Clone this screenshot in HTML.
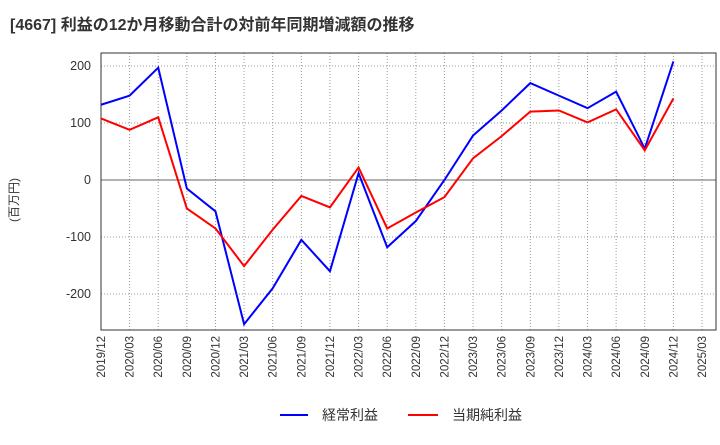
<!DOCTYPE html>
<html><head><meta charset="utf-8"><style>
body{margin:0;background:#fff;font-family:"Liberation Sans","Noto Sans CJK JP",sans-serif;}
</style></head><body>
<svg width="720" height="440" xmlns="http://www.w3.org/2000/svg" id="chart">
<text x="10" y="30" font-size="16" font-weight="bold" fill="#333" font-family="Liberation Sans,Noto Sans CJK JP,sans-serif">[4667]  利益の12か月移動合計の対前年同期増減額の推移</text>
<text transform="translate(18,200) rotate(-90)" font-size="12" fill="#333" text-anchor="middle" font-family="Liberation Sans,Noto Sans CJK JP,sans-serif">(百万円)</text>
<g id="grid"></g><g id="axes"></g><g id="series"></g>
<g>
<line x1="280" y1="415" x2="308" y2="415" stroke="#0000ff" stroke-width="2"/>
<text x="322" y="420" font-size="14" fill="#333" font-family="Liberation Sans,Noto Sans CJK JP,sans-serif">経常利益</text>
<line x1="408" y1="415" x2="438" y2="415" stroke="#ff0000" stroke-width="2"/>
<text x="452" y="420" font-size="14" fill="#333" font-family="Liberation Sans,Noto Sans CJK JP,sans-serif">当期純利益</text>
</g>
</svg>
<script>
const categories=["2019/12","2020/03","2020/06","2020/09","2020/12","2021/03","2021/06","2021/09","2021/12","2022/03","2022/06","2022/09","2022/12","2023/03","2023/06","2023/09","2023/12","2024/03","2024/06","2024/09","2024/12","2025/03"];
const ordinaryProfit=[132,148,197,-15,-55,-253,-190,-105,-160,12,-118,-72,0,78,122,170,148,126,155,55,208];
const netProfit=[108,88,110,-50,-85,-151,-87,-28,-48,22,-85,-57,-30,38,77,120,122,101,124,52,143];
const yTicks=[200,100,0,-100,-200];
const NS="http://www.w3.org/2000/svg";
const L=101,R=716,T=53,B=330;
const step=(702-L)/(categories.length-1);
const xs=i=>L+i*step;
const ys=v=>180-v*0.57;
function mk(tag,attrs,parent){const e=document.createElementNS(NS,tag);for(const k in attrs)e.setAttribute(k,attrs[k]);parent.appendChild(e);return e;}
const grid=document.getElementById('grid'),axes=document.getElementById('axes'),series=document.getElementById('series');
categories.forEach((c,i)=>{
 const g=mk('line',{x1:xs(i),x2:xs(i),y1:T,y2:B,stroke:'#999','stroke-dasharray':'1,2','stroke-width':1},grid);
 
 
 const t=mk('text',{transform:`translate(${xs(i)+4},${B+6}) rotate(-90)`,'font-size':11.5,fill:'#333','text-anchor':'end'},axes);
 t.textContent=c;
 
 
});
yTicks.forEach(v=>{
 const g=mk('line',{x1:L,x2:R,y1:ys(v),y2:ys(v),stroke:v===0?'#666':'#999','stroke-dasharray':v===0?'':'1,2','stroke-width':1},grid);
 
 
 const t=mk('text',{x:L-10,y:ys(v)+4,'font-size':12.5,fill:'#333','text-anchor':'end'},axes);
 t.textContent=v;
 
 
});
const frame=mk('rect',{x:L,y:T,width:R-L,height:B-T,fill:'none',stroke:'#333','stroke-width':1},axes);


function line(data,color,name){
 const p=mk('polyline',{points:data.map((v,i)=>xs(i)+','+ys(v)).join(' '),fill:'none',stroke:color,'stroke-width':2},series);
 
 
}
line(ordinaryProfit,'#0000ff','ordinary-profit-line');
line(netProfit,'#ff0000','net-profit-line');
</script>
</body></html>
